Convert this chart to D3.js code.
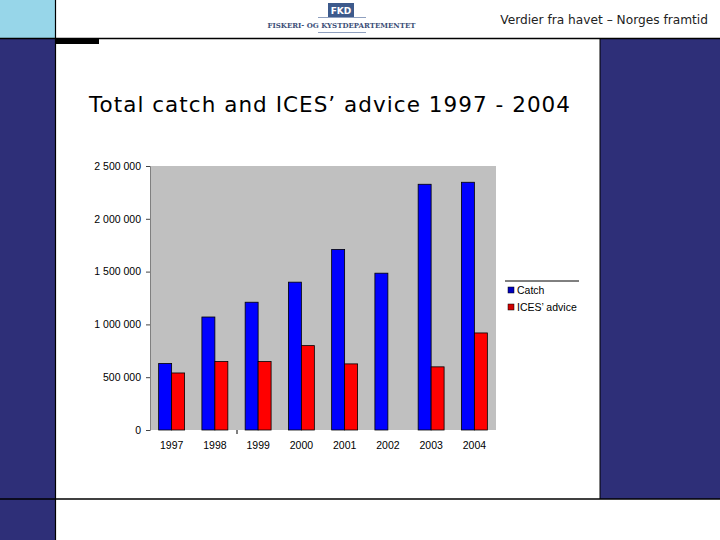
<!DOCTYPE html>
<html><head><meta charset="utf-8">
<script src="https://cdn.jsdelivr.net/npm/d3@7"></script>
<style>body{margin:0;background:#fff}svg{display:block}</style>
</head><body>
<svg id="c" width="720" height="540"></svg>
<script>
const years = ["1997","1998","1999","2000","2001","2002","2003","2004"];
const catchVals = [630000, 1070000, 1210000, 1400000, 1710000, 1485000, 2327000, 2346000];
const adviceVals = [540000, 648000, 648000, 799000, 626000, 0, 598000, 919000];
const seriesNames = ["Catch", "ICES’ advice"];
const seriesColors = ["#0000ff", "#ff0000"];
const legendColors = ["#0000c0", "#d00000"];
const yTicks = [0, 500000, 1000000, 1500000, 2000000, 2500000];

const svg = d3.select("#c");
const navy = "#2e2f78";

// slide decoration
svg.append("rect").attr("x",0).attr("y",0).attr("width",55).attr("height",38).attr("fill","#97d6e9");
svg.append("rect").attr("x",0).attr("y",38).attr("width",55).attr("height",502).attr("fill",navy);
svg.append("rect").attr("x",600).attr("y",38).attr("width",120).attr("height",461).attr("fill",navy);
svg.append("line").attr("x1",0).attr("x2",720).attr("y1",38.5).attr("y2",38.5).attr("stroke","#000").attr("stroke-width",1.5);
svg.append("line").attr("x1",0).attr("x2",720).attr("y1",499).attr("y2",499).attr("stroke","#000").attr("stroke-width",1.5);
svg.append("line").attr("x1",55.5).attr("x2",55.5).attr("y1",0).attr("y2",540).attr("stroke","#000").attr("stroke-width",1.2);
svg.append("line").attr("x1",600).attr("x2",600).attr("y1",38).attr("y2",499).attr("stroke","#000").attr("stroke-width",1);
svg.append("rect").attr("x",55).attr("y",38).attr("width",44).attr("height",6).attr("fill","#000");

// logo
svg.append("rect").attr("x",328).attr("y",3).attr("width",26).attr("height",14).attr("fill","#3d5a8c");
svg.append("text").attr("x",341).attr("y",14).attr("text-anchor","middle").attr("font-family","DejaVu Sans, sans-serif")
  .attr("font-weight","bold").attr("font-size",9).attr("fill","#fff").text("FKD");
svg.append("line").attr("x1",318).attr("x2",366).attr("y1",17.5).attr("y2",17.5).attr("stroke","#8fa0bf").attr("stroke-width",1);
svg.append("line").attr("x1",318).attr("x2",366).attr("y1",32.5).attr("y2",32.5).attr("stroke","#8fa0bf").attr("stroke-width",1);
svg.append("text").attr("x",341.5).attr("y",28).attr("text-anchor","middle").attr("font-family","DejaVu Serif, serif")
  .attr("font-weight","bold").attr("font-size",8).attr("fill","#3d4f78").attr("textLength",148).attr("lengthAdjust","spacingAndGlyphs")
  .text("FISKERI- OG KYSTDEPARTEMENTET");

svg.append("text").attr("x",708).attr("y",24).attr("text-anchor","end").attr("font-family","DejaVu Sans, sans-serif")
  .attr("font-size",12.2).attr("fill","#222").text("Verdier fra havet – Norges framtid");

// title
svg.append("text").attr("x",89).attr("y",112).attr("font-family","DejaVu Sans, Verdana, sans-serif")
  .attr("font-size",21.5).attr("fill","#000").attr("textLength",481).attr("lengthAdjust","spacing")
  .text("Total catch and ICES’ advice 1997 - 2004");

// chart
const pl = 150, pr = 496, pt = 166, pb = 430;
const x = d3.scaleBand().domain(years).range([pl, pr]).paddingInner(0.4).paddingOuter(0.2);
const xs = d3.scaleBand().domain([0,1]).range([0, x.bandwidth()]);
const y = d3.scaleLinear().domain([0, 2500000]).range([pb, pt]);

svg.append("rect").attr("x",pl).attr("y",pt).attr("width",pr-pl).attr("height",pb-pt).attr("fill","#c0c0c0");

const data = years.map((yr,i)=>({yr, vals:[catchVals[i], adviceVals[i]]}));
const g = svg.append("g");
data.forEach(d=>{
  d.vals.forEach((v,j)=>{
    if (v<=0) return;
    g.append("rect").attr("x", x(d.yr)+xs(j)).attr("y", y(v)).attr("width", xs.bandwidth()).attr("height", pb - y(v))
      .attr("fill", seriesColors[j]).attr("stroke","#000").attr("stroke-width",0.8);
  });
});

const fmt = v => d3.format(",")(v).replace(/,/g," ");
const ya = svg.append("g").attr("transform",`translate(${pl},0)`)
  .call(d3.axisLeft(y).tickValues(yTicks).tickSize(4).tickPadding(5).tickFormat(fmt));
ya.select(".domain").attr("stroke","#808080");
ya.selectAll(".tick line").attr("stroke","#444");
ya.selectAll("text").attr("font-family","Liberation Sans, Arial, sans-serif").attr("font-size",10.5).attr("fill","#000");

const xa = svg.append("g").attr("transform",`translate(0,${pb})`)
  .call(d3.axisBottom(x).tickSize(0).tickPadding(12));
xa.select(".domain").remove();
xa.selectAll("text").attr("font-family","Liberation Sans, Arial, sans-serif").attr("font-size",10.5).attr("fill","#000");
svg.append("line").attr("x1",237).attr("x2",237).attr("y1",pb).attr("y2",pb+4).attr("stroke","#000");

// legend
svg.append("line").attr("x1",505).attr("x2",579).attr("y1",281).attr("y2",281).attr("stroke","#000").attr("stroke-width",1);
const lg = svg.append("g");
seriesNames.forEach((n,i)=>{
  const yy = 290 + i*17;
  lg.append("rect").attr("x",508).attr("y",yy-3).attr("width",6).attr("height",6).attr("fill",legendColors[i]).attr("stroke","#000").attr("stroke-width",0.5);
  lg.append("text").attr("x",517).attr("y",yy+4).attr("font-family","Liberation Sans, Arial, sans-serif").attr("font-size",10.5).attr("fill","#000").text(n);
});
</script>
</body></html>
